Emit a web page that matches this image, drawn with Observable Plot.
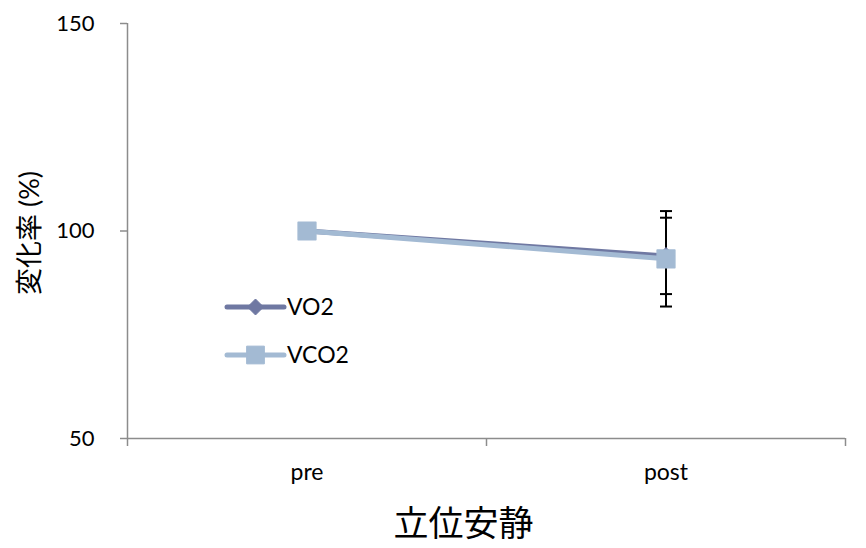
<!DOCTYPE html>
<html>
<head>
<meta charset="utf-8">
<script src="https://cdn.jsdelivr.net/npm/d3@7"></script>
<script src="https://cdn.jsdelivr.net/npm/@observablehq/plot@0.6"></script>
<style>
  html, body { margin: 0; padding: 0; background: #fff; }
  #chart { width: 866px; height: 548px; }
</style>
</head>
<body>
<div id="chart"></div>
<script>
// Time points and series (percent change relative to "pre")
const categories = ["pre", "post"];
const seriesNames = ["VO2", "VCO2"];
const vo2Values = [100, 94.0];
const vco2Values = [100, 93.3];
const vo2Errors = [0, 9.2];
const vco2Errors = [0, 11.5];
const yTicks = [50, 100, 150];

const colors = {VO2: "#6f78a2", VCO2: "#a3bad3"};
const symbols = {VO2: "diamond2", VCO2: "square"};
const radius = {VO2: 7.2, VCO2: 10};

// Categories sit at the centres of unit-wide slots on a linear x scale
const rows = [];
seriesNames.forEach((s, k) => {
  const vals = k === 0 ? vo2Values : vco2Values;
  const errs = k === 0 ? vo2Errors : vco2Errors;
  categories.forEach((c, i) => {
    rows.push({series: s, cat: c, x: i + 0.5, y: vals[i], err: errs[i]});
  });
});
const errRows = rows.filter(d => d.err > 0);

// Short horizontal line used for error-bar caps
const capSymbol = {draw(context, size) { const r = 6; context.moveTo(-r, 0); context.lineTo(r, 0); }};

const font = "Lato, 'Noto Sans CJK JP', sans-serif";

// Legend drawn inside the plotting area
function legend(index, scales, values, dimensions) {
  const g = d3.create("svg:g");
  const x0 = 227, x1 = 284, tx = 287;
  seriesNames.forEach((s, i) => {
    const y = 307 + i * 48;
    g.append("line").attr("x1", x0).attr("x2", x1).attr("y1", y).attr("y2", y)
      .attr("stroke", colors[s]).attr("stroke-width", 5).attr("stroke-linecap", "round");
    const sym = s === "VO2" ? d3.symbolDiamond2 : d3.symbolSquare;
    const size = Math.PI * radius[s] * radius[s];
    g.append("path").attr("d", d3.symbol(sym, size)()).attr("transform", `translate(${(x0 + x1) / 2},${y})`)
      .attr("fill", colors[s]).attr("stroke", colors[s]).attr("stroke-linejoin", "round");
    g.append("text").attr("x", tx).attr("y", y).attr("dy", "0.36em")
      .attr("text-anchor", "start")
      .attr("font-size", 23).attr("font-family", font).attr("fill", "#000").text(s);
  });
  return g.node();
}

const plot = Plot.plot({
  width: 866,
  height: 548,
  marginLeft: 127,
  marginRight: 21,
  marginTop: 23,
  marginBottom: 110,
  style: {fontFamily: font, fontSize: "21px", color: "#000", background: "#fff"},
  x: {type: "linear", domain: [0, categories.length]},
  y: {domain: [50, 150]},
  marks: [
    // axes lines
    Plot.ruleX([0], {stroke: "#8c8c8c", strokeWidth: 1.5}),
    Plot.ruleY([50], {stroke: "#8c8c8c", strokeWidth: 1.5}),
    Plot.axisY({ticks: yTicks, tickSize: 7, tickPadding: 26, stroke: "#8c8c8c", strokeWidth: 1.5, label: null, fontSize: 22}),
    Plot.axisX({ticks: d3.range(categories.length + 1), tickSize: 8, tickFormat: () => "", stroke: "#8c8c8c", strokeWidth: 1.5, label: null}),
    Plot.axisX({ticks: categories.map((c, i) => i + 0.5), tickSize: 0, tickPadding: 25, tickFormat: v => categories[Math.floor(v)], label: null, fontSize: 23}),
    // axis titles
    Plot.text(["変化率 (%)"], {frameAnchor: "left", textAnchor: "middle", lineAnchor: "middle", rotate: -90, dx: -97, dy: 2, fontSize: 27, fill: "#000"}),
    Plot.text(["立位安静"], {frameAnchor: "bottom", textAnchor: "middle", lineAnchor: "middle", dx: -23, dy: 86, fontSize: 35, fill: "#000"}),
    // error bars with caps
    Plot.ruleX(errRows, {x: "x", y1: d => d.y - d.err, y2: d => d.y + d.err, stroke: "#000", strokeWidth: 2}),
    Plot.dot(errRows, {x: "x", y: d => d.y + d.err, symbol: capSymbol, stroke: "#000", strokeWidth: 2, fill: "none"}),
    Plot.dot(errRows, {x: "x", y: d => d.y - d.err, symbol: capSymbol, stroke: "#000", strokeWidth: 2, fill: "none"}),
    // series lines and markers
    ...seriesNames.flatMap(s => [
      Plot.line(rows.filter(d => d.series === s), {x: "x", y: "y", stroke: colors[s], strokeWidth: 5}),
      Plot.dot(rows.filter(d => d.series === s), {x: "x", y: "y", symbol: symbols[s], r: radius[s], fill: colors[s], stroke: colors[s], strokeLinejoin: "round"})
    ]),
    legend
  ]
});

document.getElementById("chart").append(plot);
</script>
</body>
</html>
